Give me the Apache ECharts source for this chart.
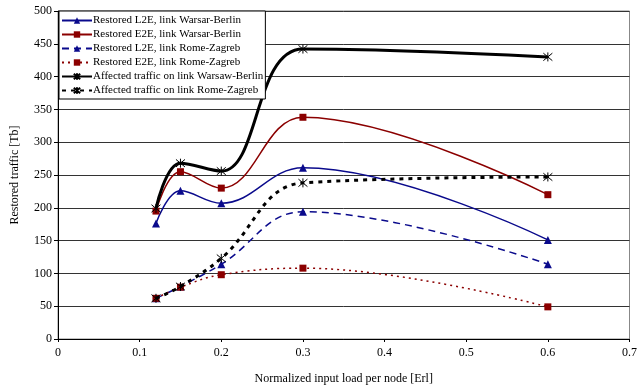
<!DOCTYPE html>
<html><head><meta charset="utf-8">
<script src="https://cdn.jsdelivr.net/npm/echarts@6/dist/echarts.min.js"></script>
<style>html,body{margin:0;padding:0;background:#fff}#c{width:640px;height:390px}</style>
</head><body><div id="c"></div>
<script>
const xLoads = [0.12, 0.15, 0.2, 0.3, 0.6];
const seriesNames = [
  'Restored L2E, link Warsar-Berlin',
  'Restored E2E, link Warsar-Berlin',
  'Restored L2E, link Rome-Zagreb',
  'Restored E2E, link Rome-Zagreb',
  'Affected traffic on link Warsaw-Berlin',
  'Affected traffic on link Rome-Zagreb'
];
const l2eWB = [176, 226, 207, 261, 151];
const e2eWB = [195, 255, 230, 338, 220];
const l2eRZ = [62, 80, 114, 194, 114];
const e2eRZ = [62, 79, 98, 108, 49];
const affWB = [199, 268, 256, 442, 430];
const affRZ = [62, 80, 123, 238, 247];
const yTicks = [0, 50, 100, 150, 200, 250, 300, 350, 400, 450, 500];

const star = 'path://M0,0L10,10M10,0L0,10M5,-1L5,11';
const serif = '"Liberation Serif","DejaVu Serif",serif';
function pts(v){ return xLoads.map((x,i)=>[x, v[i]]); }
function mk(name, vals, color, width, type, symbol, size, isStar){
  return {
    name, type:'line', data:pts(vals), smooth:0.4,
    symbol, symbolSize:size,
    lineStyle:{color, width, type},
    itemStyle: isStar ? {color:'rgba(0,0,0,0)', borderColor:color, borderWidth:1} : {color, borderWidth:0},
    z: isStar ? 3 : 2
  };
}
const chart = echarts.init(document.getElementById('c'), null, {renderer:'canvas'});
chart.setOption({
  animation:false,
  backgroundColor:'#fff',
  grid:{left:58, right:6, top:11, bottom:51, show:true, borderColor:'#888', borderWidth:1},
  legend:{
    orient:'vertical', left:59, top:11, itemGap:3, itemWidth:30, itemHeight:8,
    backgroundColor:'#fff', borderColor:'#000', borderWidth:1, padding:[4,2,3,2],
    textStyle:{fontFamily:serif, fontSize:11, color:'#000', padding:[0,0,0,-4]},
    data: seriesNames
  },
  xAxis:{
    type:'value', min:0, max:0.7, interval:0.1,
    name:'Normalized input load per node [Erl]', nameLocation:'middle', nameGap:34,
    nameTextStyle:{fontFamily:serif, fontSize:12, color:'#000'},
    axisLine:{lineStyle:{color:'#000'}},
    axisTick:{show:true, length:3, lineStyle:{color:'#000'}},
    axisLabel:{fontFamily:serif, fontSize:12, color:'#000', margin:8,
      formatter:v=>v===0?'0':String(Math.round(v*10)/10)},
    splitLine:{show:false}
  },
  yAxis:{
    type:'value', min:0, max:500, interval:50,
    name:'Restored traffic [Tb]', nameLocation:'middle', nameGap:37,
    nameTextStyle:{fontFamily:serif, fontSize:12, color:'#000'},
    axisLine:{show:true, lineStyle:{color:'#000'}},
    axisTick:{show:true, length:4, lineStyle:{color:'#000'}},
    axisLabel:{fontFamily:serif, fontSize:12, color:'#000', margin:6,
      formatter:v=> yTicks.includes(v) ? String(v) : ''},
    splitLine:{show:true, lineStyle:{color:'#333', width:1}}
  },
  series:[
    mk(seriesNames[0], l2eWB, '#0a0a8c', 1.5, 'solid', 'triangle', 8, false),
    mk(seriesNames[1], e2eWB, '#8b0000', 1.5, 'solid', 'rect', 7, false),
    mk(seriesNames[2], l2eRZ, '#0a0a8c', 1.5, [7,5], 'triangle', 8, false),
    mk(seriesNames[3], e2eRZ, '#8b0000', 1.5, [2,4], 'rect', 7, false),
    mk(seriesNames[4], affWB, '#000', 3, 'solid', star, 9, true),
    mk(seriesNames[5], affRZ, '#000', 3, [4,5], star, 9, true)
  ]
});
</script></body></html>
